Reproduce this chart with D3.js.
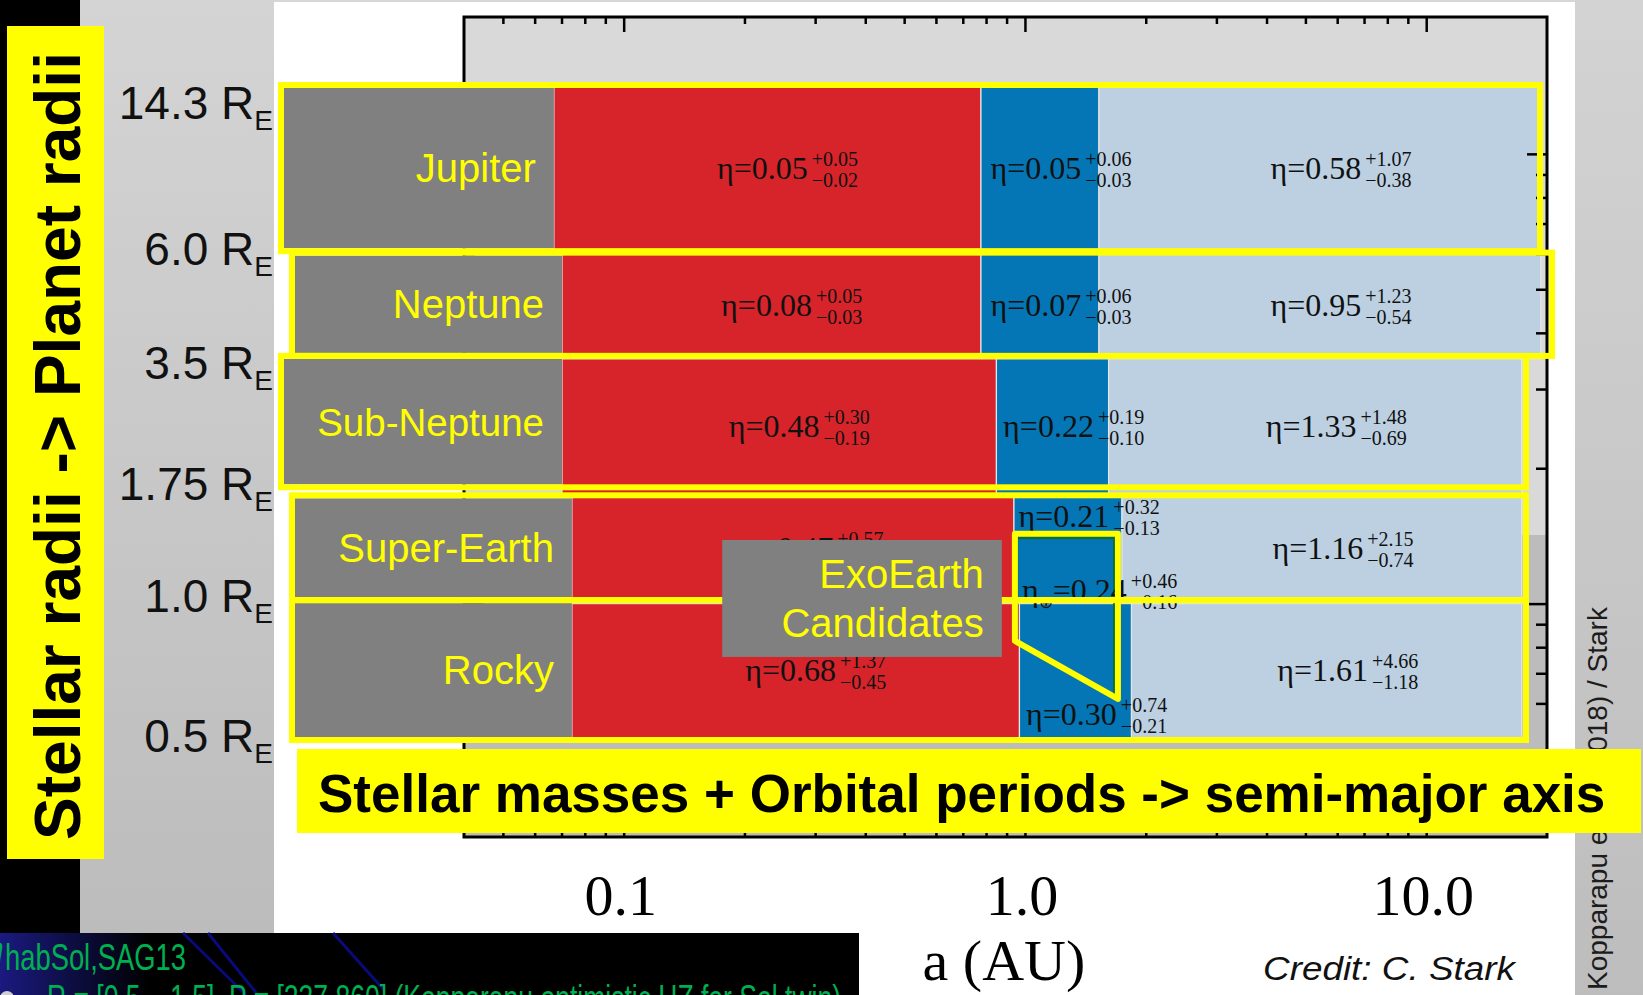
<!DOCTYPE html>
<html>
<head>
<meta charset="utf-8">
<script src="https://cdn.jsdelivr.net/npm/d3@7"></script>
<style>
  html, body { margin: 0; padding: 0; background: #fff; overflow: hidden; }
  svg { display: block; }
</style>
</head>
<body>
<svg id="chart" width="1643" height="995"></svg>
<script>
// planet size classes, top to bottom
const rowNames = ["Jupiter", "Neptune", "Sub-Neptune", "Super-Earth", "Rocky"];
const radiusEdges = [14.3, 6.0, 3.5, 1.75, 1.0, 0.5];          // R_E
const radiusLabels = ["14.3", "6.0", "3.5", "1.75", "1.0", "0.5"];

// semi-major axis edges in AU: inner, hot|warm, warm|cold, outer
const zoneEdges = [
    [0.067, 0.777, 1.529, 19.3],
    [0.0702, 0.777, 1.529, 19.3],
    [0.0702, 0.849, 1.616, 17.3],
    [0.0743, 0.939, 1.745, 17.3],
    [0.0743, 0.969, 1.843, 17.3]
];

// occurrence rates [eta, +err, -err]
const etaHot  = [[0.05, 0.05, 0.02], [0.08, 0.05, 0.03], [0.48, 0.30, 0.19], [0.47, 0.57, 0.25], [0.68, 1.37, 0.45]];
const etaWarm = [[0.05, 0.06, 0.03], [0.07, 0.06, 0.03], [0.22, 0.19, 0.10], [0.21, 0.32, 0.13], [0.30, 0.74, 0.21]];
const etaCold = [[0.58, 1.07, 0.38], [0.95, 1.23, 0.54], [1.33, 1.48, 0.69], [1.16, 2.15, 0.74], [1.61, 4.66, 1.18]];
const etaEarth = [0.24, 0.46, 0.16];

// exoEarth candidate zone (green, from the figure) and the slide's yellow outline
const exoEarthA = [0.955, 1.67, 1.67, 0.955];
const exoEarthR = [1.40, 1.40, 0.619, 0.819];
const exoOutlineA = [0.944, 1.705, 1.705, 0.944];
const exoOutlineR = [1.43, 1.43, 0.614, 0.826];

// axes
const xMajorTicks = [0.1, 1, 10];
const xTickLabels = ["0.1", "1.0", "10.0"];
const xMinorTicks = [0.05, 0.06, 0.07, 0.08, 0.09, 0.2, 0.3, 0.4, 0.5, 0.6, 0.7, 0.8, 0.9, 2, 3, 4, 5, 6, 7, 8, 9];
const yMajorTicks = [1, 10];
const yMinorTicks = [0.6, 0.7, 0.8, 0.9, 2, 3, 4, 5, 6, 7, 8, 9];

// --- layout of the slide (not data) ---
const W = 1643, H = 995;
const frame = { left: 464, right: 1547, top: 17, bottom: 837 };
const zoneColors = ["#d7242b", "#0476b5", "#bcd0e2"];
const YEL = "#ffff00";
const fSans = "'Liberation Sans', Arial, Helvetica, sans-serif";
const fSerif = "'Liberation Serif', 'Times New Roman', Times, serif";

// yellow row outlines drawn over the figure (stroke centre)
const boxLeft = [281, 292, 281, 292, 292];
const boxRight = [1540, 1552, 1526, 1526, 1526];
const boxTopNudge = [1, -1, -3, 1, -3.5];
const boxBottomNudge = [-2.5, -3, -7, -3.5, 1];
const radiusLabelNudge = [35, 11, 20, 6, 8, 13];

const svg = d3.select("#chart");
const defs = svg.append("defs");

function vGrad(id, c0, c1) {
    const g = defs.append("linearGradient").attr("id", id)
        .attr("x1", 0).attr("y1", 0).attr("x2", 0).attr("y2", 1);
    g.append("stop").attr("offset", "0%").attr("stop-color", c0);
    g.append("stop").attr("offset", "100%").attr("stop-color", c1);
}
vGrad("panelGrad", "#d4d4d4", "#bcbcbc");
vGrad("rightGrad", "#d3d3d3", "#bdbdbd");
const glow = defs.append("linearGradient").attr("id", "glow")
    .attr("x1", 0).attr("y1", 0).attr("x2", 1).attr("y2", 0);
glow.append("stop").attr("offset", "0%").attr("stop-color", "#1a1a80");
glow.append("stop").attr("offset", "100%").attr("stop-color", "#000");

// Scales
const x = d3.scaleLog().domain([0.04, 20]).range([frame.left, frame.right]);
const y = d3.scaleLog().domain([0.5, 14.3]).range([739, 84]);

// --- slide background ---
svg.append("rect").attr("width", W).attr("height", H).attr("fill", "#fff");
svg.append("rect").attr("x", 274).attr("width", 1301).attr("height", 2).attr("fill", "#d6d6d6");
svg.append("rect").attr("x", 0).attr("width", 80).attr("height", H).attr("fill", "#000");
svg.append("rect").attr("x", 80).attr("width", 194).attr("height", 933).attr("fill", "url(#panelGrad)");
svg.append("rect").attr("x", 1575).attr("width", W - 1575).attr("height", H).attr("fill", "url(#rightGrad)");

svg.append("text")
    .attr("transform", "translate(1607,990) rotate(-90)")
    .attr("font-family", fSans).attr("font-size", 28).attr("fill", "#1c1c1c")
    .text("Kopparapu et al. (2018) / Stark");

// --- figure ---
const fig = svg.append("g");
fig.append("rect").attr("x", frame.left).attr("y", frame.top)
    .attr("width", frame.right - frame.left).attr("height", 535 - frame.top).attr("fill", "#d9d9d9");
fig.append("rect").attr("x", frame.left).attr("y", 535)
    .attr("width", frame.right - frame.left).attr("height", frame.bottom - 535).attr("fill", "#bcbcbc");

// cells
const cells = [];
rowNames.forEach((name, i) => {
    for (let j = 0; j < 3; j++) {
        cells.push({ row: i, zone: j, a0: zoneEdges[i][j], a1: zoneEdges[i][j + 1],
                     r0: radiusEdges[i + 1], r1: radiusEdges[i] });
    }
});
fig.append("g").selectAll("rect").data(cells).join("rect")
    .attr("x", d => x(d.a0))
    .attr("y", d => y(d.r1))
    .attr("width", d => x(d.a1) - x(d.a0))
    .attr("height", d => y(d.r0) - y(d.r1))
    .attr("fill", d => zoneColors[d.zone])
    .attr("stroke", "#e6e6e6").attr("stroke-width", 1.2);

// exoEarth zone as drawn in the figure
const exoLine = d3.line().x(d => x(d[0])).y(d => y(d[1]));
fig.append("path")
    .attr("d", exoLine(d3.zip(exoEarthA, exoEarthR)) + "Z")
    .attr("fill", "none").attr("stroke", "#0b6b3a").attr("stroke-width", 2.5);

// axes, ticks inward
function styleAxis(g) {
    g.select(".domain").remove();
    g.selectAll(".tick line").attr("stroke", "#000").attr("stroke-width", 2.5);
}
const axes = fig.append("g");
[[xMinorTicks, 7], [xMajorTicks, 15]].forEach(([vals, len]) => {
    axes.append("g").attr("transform", `translate(0,${frame.top})`)
        .call(d3.axisTop(x).tickValues(vals).tickSize(-len).tickFormat("")).call(styleAxis);
    axes.append("g").attr("transform", `translate(0,${frame.bottom})`)
        .call(d3.axisBottom(x).tickValues(vals).tickSize(-len).tickFormat("")).call(styleAxis);
});
[[yMinorTicks, 11], [yMajorTicks, 20]].forEach(([vals, len]) => {
    axes.append("g").attr("transform", `translate(${frame.right},0)`)
        .call(d3.axisRight(y).tickValues(vals).tickSize(-len).tickFormat("")).call(styleAxis);
    axes.append("g").attr("transform", `translate(${frame.left},0)`)
        .call(d3.axisLeft(y).tickValues(vals).tickSize(-len).tickFormat("")).call(styleAxis);
});
fig.append("rect").attr("x", frame.left).attr("y", frame.top)
    .attr("width", frame.right - frame.left).attr("height", frame.bottom - frame.top)
    .attr("fill", "none").attr("stroke", "#000").attr("stroke-width", 3);

// x tick labels and title
fig.append("g").selectAll("text").data(xMajorTicks).join("text")
    .attr("x", d => x(d) - 3).attr("y", 915)
    .attr("text-anchor", "middle")
    .attr("font-family", fSerif).attr("font-size", 58).attr("fill", "#000")
    .text((d, i) => xTickLabels[i]);
fig.append("text")
    .attr("x", x(1) - 21).attr("y", 980)
    .attr("text-anchor", "middle")
    .attr("font-family", fSerif).attr("font-size", 58).attr("fill", "#000")
    .text("a (AU)");

// eta labels
const fmt = d3.format(".2f");
const etaG = fig.append("g").attr("font-family", fSerif).attr("fill", "#111");
const rowMid = i => (y(radiusEdges[i]) + y(radiusEdges[i + 1])) / 2;
const cellMid = (i, j) => x(Math.sqrt(zoneEdges[i][j] * zoneEdges[i][j + 1]));

function etaLabel(cx, base, e, earth) {
    const t = etaG.append("text").attr("x", cx).attr("y", base)
        .attr("text-anchor", "middle").attr("font-size", 32);
    if (earth) {
        t.append("tspan").text("η");
        t.append("tspan").attr("font-size", 17).attr("dy", 7).text("⊕");
        t.append("tspan").attr("dy", -7).text("=" + fmt(e[0]));
    } else {
        t.text("η=" + fmt(e[0]));
    }
    const w = t.node().getComputedTextLength();
    const sx = cx + w / 2 + 4;
    etaG.append("text").attr("x", sx).attr("y", base - 13).attr("font-size", 20).text("+" + fmt(e[1]));
    etaG.append("text").attr("x", sx).attr("y", base + 8).attr("font-size", 20).text("−" + fmt(e[2]));
}

rowNames.forEach((name, i) => {
    const base = rowMid(i) + 10;
    etaLabel(cellMid(i, 0) - 5, base, etaHot[i]);
    etaLabel(cellMid(i, 2) - 4, base, etaCold[i]);
    if (i === 3) etaLabel(cellMid(i, 1) - 4, y(radiusEdges[i]) + 33, etaWarm[i]);
    else if (i === 4) etaLabel(cellMid(i, 1) - 4, y(radiusEdges[i + 1]) - 14, etaWarm[i]);
    else etaLabel(cellMid(i, 1) - 4, base, etaWarm[i]);
});
etaLabel(cellMid(4, 1) - 1, y(1.0) - 3, etaEarth, true);

// --- slide overlays ---
const over = svg.append("g");
rowNames.forEach((name, i) => {
    const top = y(radiusEdges[i]) + boxTopNudge[i];
    const bottom = y(radiusEdges[i + 1]) + boxBottomNudge[i];
    const grayRight = x(zoneEdges[i][0]);
    over.append("rect")
        .attr("x", boxLeft[i] + 3).attr("y", top + 3)
        .attr("width", grayRight - boxLeft[i] - 3).attr("height", bottom - top - 6)
        .attr("fill", "#808080");
    over.append("text")
        .attr("x", grayRight - 18).attr("y", (top + bottom) / 2 + 14)
        .attr("text-anchor", "end")
        .attr("font-family", fSans).attr("font-size", name === "Sub-Neptune" ? 38.5 : 40)
        .attr("fill", YEL)
        .text(name);
});
rowNames.forEach((name, i) => {
    const top = y(radiusEdges[i]) + boxTopNudge[i];
    const bottom = y(radiusEdges[i + 1]) + boxBottomNudge[i];
    over.append("rect")
        .attr("x", boxLeft[i]).attr("y", top)
        .attr("width", boxRight[i] - boxLeft[i]).attr("height", bottom - top)
        .attr("fill", "none").attr("stroke", YEL).attr("stroke-width", 6);
});

// exoEarth outline and label box
over.append("path")
    .attr("d", exoLine(d3.zip(exoOutlineA, exoOutlineR)) + "Z")
    .attr("fill", "none").attr("stroke", YEL).attr("stroke-width", 6)
    .attr("stroke-linejoin", "round");
const exoBox = { left: x(0.176), right: x(0.876), top: y(1.385), bottom: y(0.761) };
over.append("rect")
    .attr("x", exoBox.left).attr("y", exoBox.top)
    .attr("width", exoBox.right - exoBox.left).attr("height", exoBox.bottom - exoBox.top)
    .attr("fill", "#808080");
["ExoEarth", "Candidates"].forEach((s, k) => {
    over.append("text")
        .attr("x", exoBox.right - 18).attr("y", exoBox.top + 48 + k * 49)
        .attr("text-anchor", "end")
        .attr("font-family", fSans).attr("font-size", 40).attr("fill", YEL)
        .text(s);
});

// radius labels on the left panel
over.append("g").selectAll("text").data(radiusEdges).join("text")
    .attr("x", 273)
    .attr("y", (d, i) => y(d) + radiusLabelNudge[i])
    .attr("text-anchor", "end")
    .attr("font-family", fSans).attr("font-size", 46).attr("fill", "#111")
    .each(function (d, i) {
        const t = d3.select(this);
        t.append("tspan").text(radiusLabels[i] + " R");
        t.append("tspan").attr("font-size", 28).attr("dy", 11).text("E");
    });

// vertical axis caption
over.append("rect").attr("x", 7).attr("y", 26).attr("width", 97).attr("height", 833).attr("fill", YEL);
over.append("text")
    .attr("transform", "translate(80,446) rotate(-90)")
    .attr("text-anchor", "middle")
    .attr("font-family", fSans).attr("font-weight", "bold").attr("font-size", 64).attr("fill", "#000")
    .text("Stellar radii -> Planet radii");

// horizontal axis caption
over.append("rect").attr("x", 297).attr("y", 749).attr("width", W - 2 - 297).attr("height", 84).attr("fill", YEL);
over.append("text")
    .attr("x", 318).attr("y", 812)
    .attr("font-family", fSans).attr("font-weight", "bold").attr("font-size", 53).attr("fill", "#000")
    .text("Stellar masses + Orbital periods -> semi-major axis");

over.append("text")
    .attr("x", 1263).attr("y", 980)
    .attr("font-family", fSans).attr("font-style", "italic").attr("font-size", 34).attr("fill", "#111")
    .attr("textLength", 252).attr("lengthAdjust", "spacingAndGlyphs")
    .text("Credit: C. Stark");

// bottom-left strip of the next slide text
const strip = svg.append("g");
strip.append("rect").attr("x", 0).attr("y", 933).attr("width", 859).attr("height", H - 933).attr("fill", "#000");
strip.append("rect").attr("x", 0).attr("y", 933).attr("width", 150).attr("height", H - 933).attr("fill", "url(#glow)");
[[183, 933, 246, 995], [208, 933, 258, 995], [333, 933, 384, 990]].forEach(p => {
    strip.append("line").attr("x1", p[0]).attr("y1", p[1]).attr("x2", p[2]).attr("y2", p[3])
        .attr("stroke", "#0a0a7a").attr("stroke-width", 3);
});
strip.append("text").attr("x", -16).attr("y", 962)
    .attr("font-family", fSerif).attr("font-style", "italic").attr("font-size", 40).attr("fill", "#00b050").text("η");
strip.append("text").attr("x", 5).attr("y", 970)
    .attr("font-family", fSans).attr("font-size", 36).attr("fill", "#00b050")
    .attr("textLength", 181).attr("lengthAdjust", "spacingAndGlyphs")
    .text("habSol,SAG13");
strip.append("circle").attr("cx", 7).attr("cy", 998).attr("r", 7).attr("fill", "#d0d0d0");
strip.append("text").attr("x", 47).attr("y", 1011)
    .attr("font-family", fSans).attr("font-size", 36).attr("fill", "#00b050")
    .attr("textLength", 794).attr("lengthAdjust", "spacingAndGlyphs")
    .text("R = [0.5 – 1.5], P = [237,860] (Kopparapu optimistic HZ for Sol twin)");
</script>
</body>
</html>
